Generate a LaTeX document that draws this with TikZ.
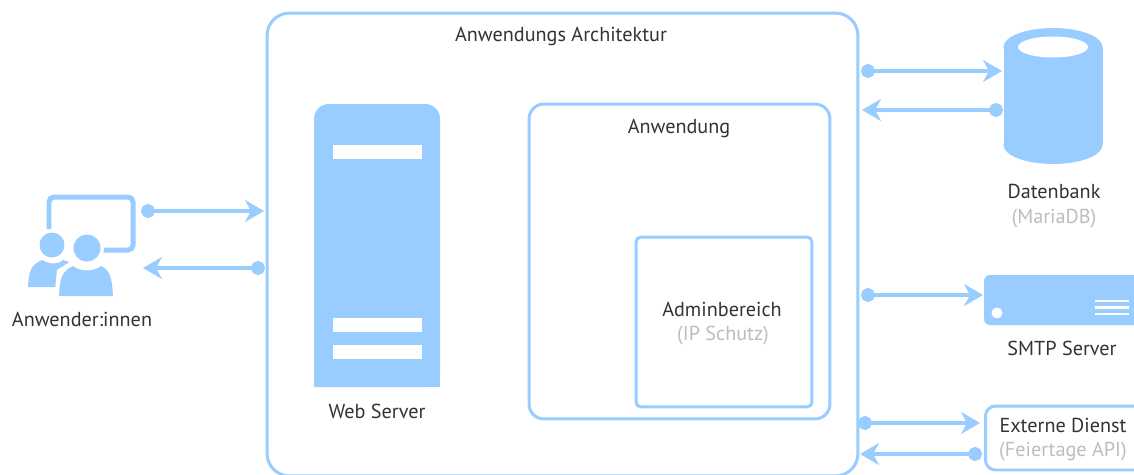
\documentclass[tikz,border=0pt]{standalone}
\usepackage{fontspec}
\setmainfont{PT Sans}
\usetikzlibrary{arrows.meta}
\definecolor{archblue}{HTML}{99CCFF}
\definecolor{labeldark}{HTML}{333333}
\definecolor{labelgrey}{HTML}{BDBDBD}
\tikzset{
    frame/.style={draw=archblue, line width=0.06cm, fill=white, rounded corners=0.3cm},
    link/.style={draw=archblue, line width=0.07cm, {Circle[length=0.28cm]}-{Stealth[length=0.38cm, width=0.44cm, inset=0.12cm]}},
    label/.style={text=labeldark, font=\fontsize{11.5}{13}\selectfont, inner sep=0pt},
    sublabel/.style={text=labelgrey, font=\fontsize{11.5}{13}\selectfont, inner sep=0pt}
}
\begin{document}
\begin{tikzpicture}[x=0.02cm, y=-0.02cm]
    \path[use as bounding box, clip] (0,0) rectangle (1134,474);
    \fill[white] (0,0) rectangle (1134,474);

    \node[frame, rounded corners=0.45cm, minimum width=11.82cm, minimum height=9.26cm] (architektur) at (562.5,244.5) {};
    \node[label] (architekturtext) at (561,36) {Anwendungs Architektur};

    \fill[archblue, rounded corners=0.3cm] (314,387) -- (314,104) -- (440,104) -- (440,387) [sharp corners] -- cycle;
    \fill[archblue] (314,370) rectangle (440,387);
    \foreach \bar in {145,318,345} {
        \fill[white] (333,\bar) rectangle (422,\bar+14);
    }
    \node[label] (webserver) at (377,411) {Web Server};

    \node[frame, minimum width=6.02cm, minimum height=6.3cm] (anwendung) at (679.5,261.5) {};
    \node[label] (anwendungtext) at (679,128) {Anwendung};
    \node[frame, rounded corners=0.1cm, minimum width=3.52cm, minimum height=3.4cm] (admin) at (724,322) {};
    \node[label] (admintext) at (722,309) {Adminbereich};
    \node[sublabel] (adminsub) at (723,336) {(IP Schutz)};

    \draw[archblue, line width=0.1cm, rounded corners=0.1cm] (49,229) -- (49,197) -- (133,197) -- (133,250) -- (100,250);
    \fill[archblue] (52,245) circle (12.5);
    \fill[archblue] (28,287) .. controls (29,270) and (31,265) .. (42,260) .. controls (50,265) and (60,264) .. (63,260) -- (72,263) -- (72,287) -- cycle;
    \fill[white] (87,248) circle (17);
    \fill[white] (54,300) -- (57,270) -- (73,260) -- (101,260) -- (116,270) -- (118,300) -- cycle;
    \fill[archblue] (87,248) circle (13.5);
    \fill[archblue] (59,296) .. controls (60,278) and (62,271) .. (73,266) .. controls (80,272) and (94,272) .. (101,266) .. controls (110,270) and (112,278) .. (113,296) -- cycle;
    \node[label] (anwender) at (82,319) {Anwender:innen};

    \fill[archblue] (1053,47) ellipse [x radius=49.5, y radius=19];
    \fill[archblue] (1003.5,47) rectangle (1102.5,145);
    \fill[archblue] (1053,145) ellipse [x radius=49.5, y radius=19];
    \fill[white] (1053,47) ellipse [x radius=35, y radius=10.5];
    \node[label] (datenbank) at (1054,191) {Datenbank};
    \node[sublabel] (mariadb) at (1054,219) {(MariaDB)};

    \fill[archblue, rounded corners=0.12cm] (984,275) rectangle (1160,325);
    \fill[white] (997,313) circle (5.5);
    \foreach \bar in {301,307.5,314} {
        \draw[white, line width=0.05cm] (1095,\bar) -- (1129,\bar);
    }
    \node[label] (smtp) at (1062,348) {SMTP Server};

    \node[frame, rounded corners=0.2cm, minimum width=4cm, minimum height=1.28cm, anchor=west] (extern) at (984,438) {};
    \node[label] (externtext) at (1063,425) {Externe Dienst};
    \node[sublabel] (feiertage) at (1063,452) {(Feiertage API)};

    \coordinate (userout) at (141,211);
    \coordinate (archin) at (264,211);
    \coordinate (archout) at (265,268);
    \coordinate (userin) at (143,268);
    \coordinate (dbouta) at (861,71);
    \coordinate (dbina) at (1002,71);
    \coordinate (dboutb) at (1003,110);
    \coordinate (dbinb) at (862,110);
    \coordinate (smtpout) at (861,295);
    \coordinate (smtpin) at (983,295);
    \coordinate (externouta) at (858,423);
    \coordinate (externina) at (980,423);
    \coordinate (externoutb) at (982,454);
    \coordinate (externinb) at (860,454);

    \draw[link] (userout) -- (archin);
    \draw[link] (archout) -- (userin);
    \draw[link] (dbouta) -- (dbina);
    \draw[link] (dboutb) -- (dbinb);
    \draw[link] (smtpout) -- (smtpin);
    \draw[link] (externouta) -- (externina);
    \draw[link] (externoutb) -- (externinb);
\end{tikzpicture}
\end{document}
